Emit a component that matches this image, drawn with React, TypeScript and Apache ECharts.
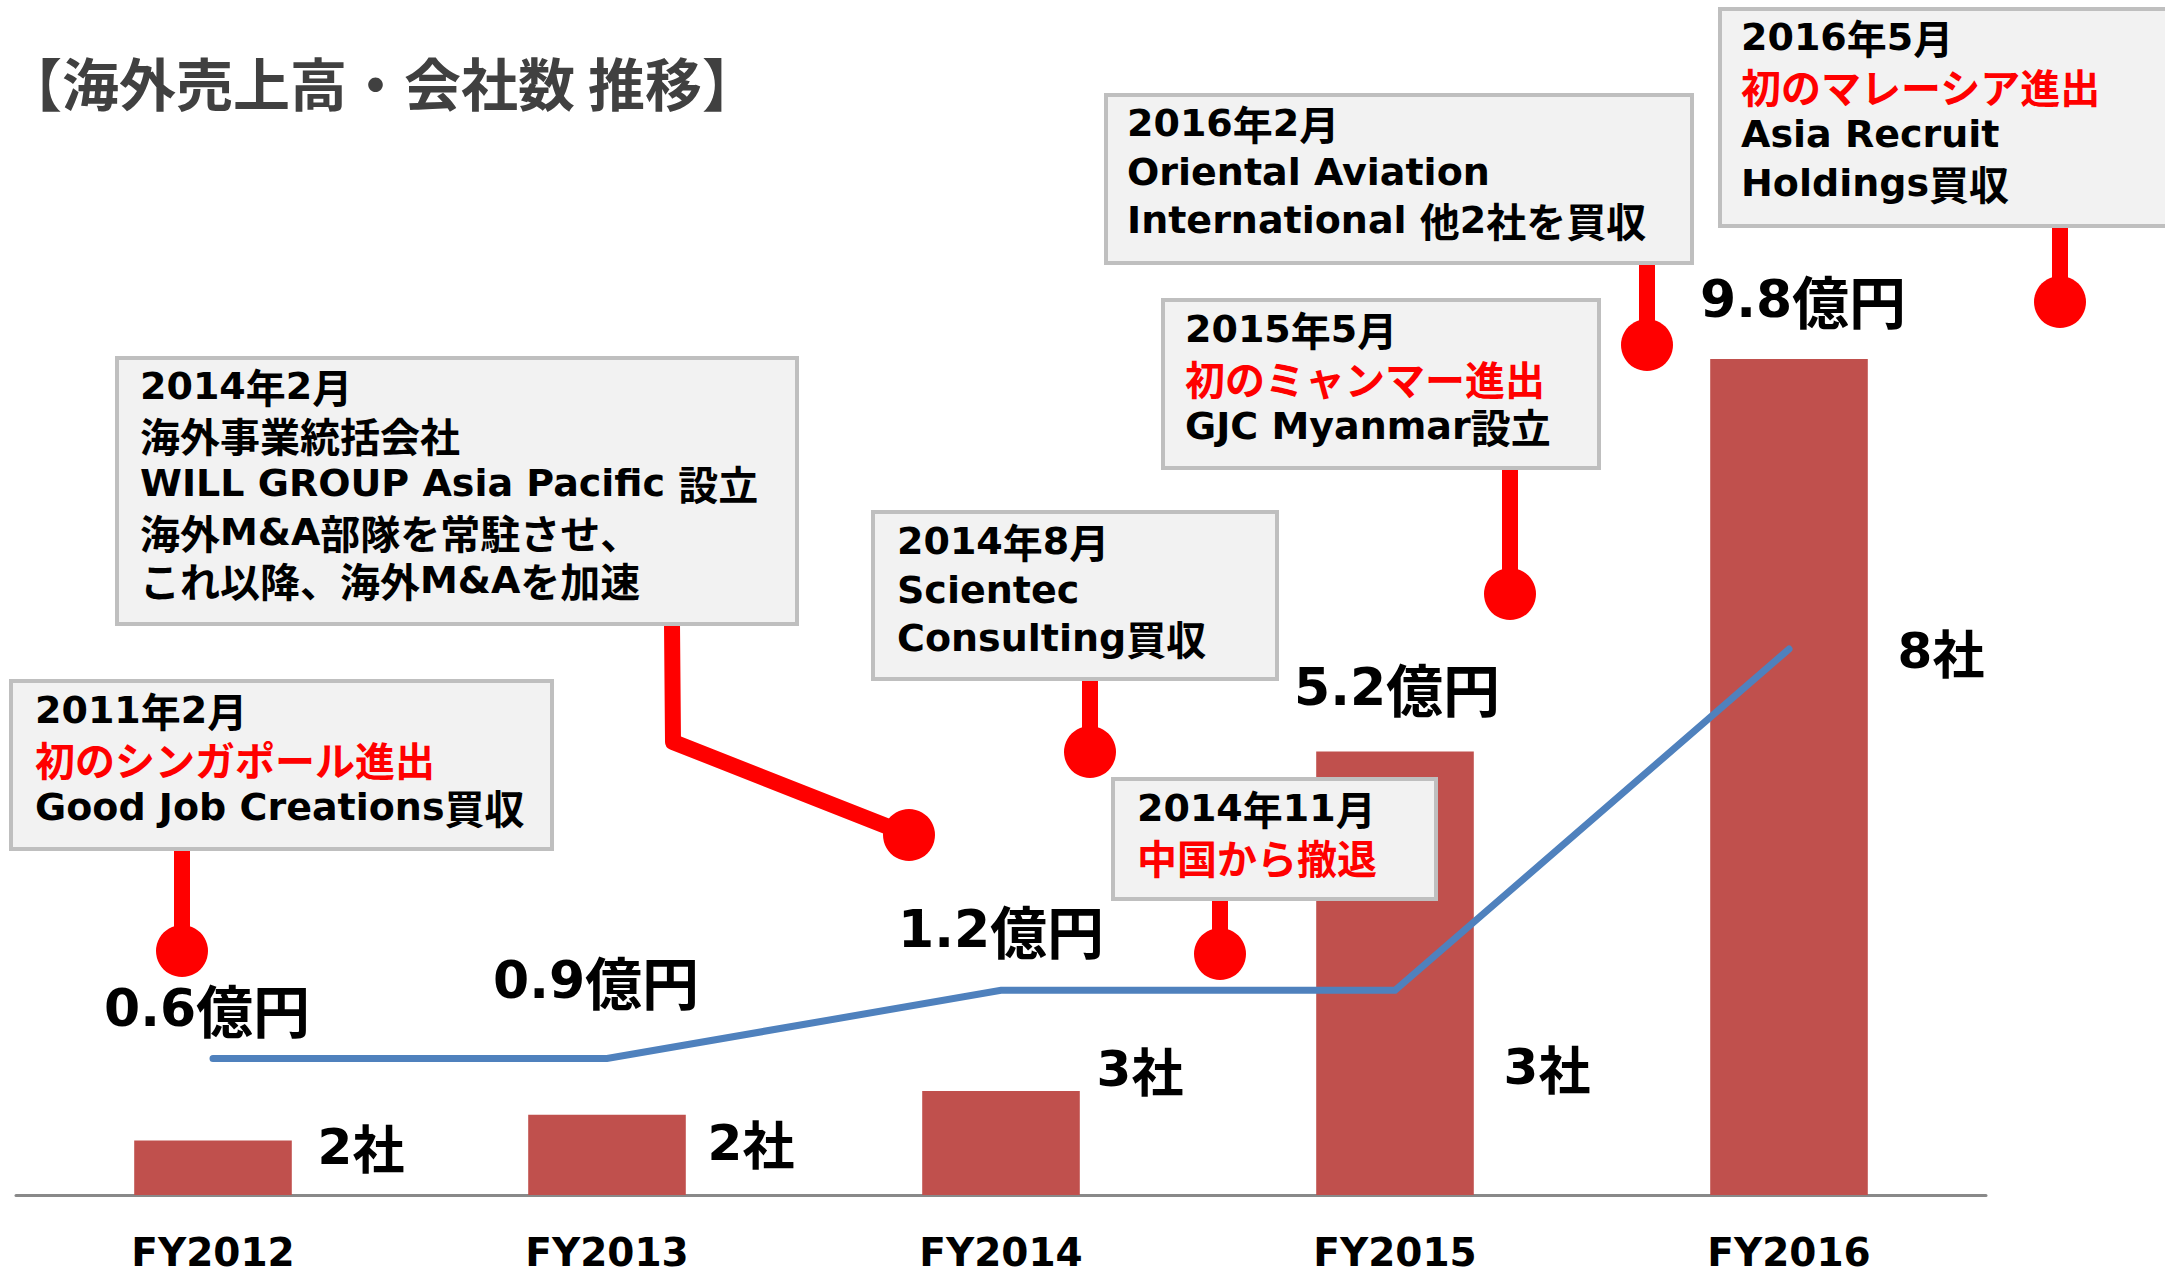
import React, { useEffect, useRef } from "react";
import * as echarts from "echarts";

// ---- data ----
const categories = ["FY2012", "FY2013", "FY2014", "FY2015", "FY2016"];
const revenue = [0.64, 0.94, 1.22, 5.2, 9.8]; // 億円 (bars)
const companies = [2, 2, 3, 3, 8]; // 社 (line)
const titleText = "【海外売上高・会社数 推移】";

const eventLines = [
  ["2011年2月", "初のシンガポール進出", "Good Job Creations買収"],
  ["2014年2月", "海外事業統括会社", "WILL GROUP Asia Pacific 設立", "海外M&A部隊を常駐させ、", "これ以降、海外M&Aを加速"],
  ["2014年8月", "Scientec", "Consulting買収"],
  ["2014年11月", "中国から撤退"],
  ["2015年5月", "初のミャンマー進出", "GJC Myanmar設立"],
  ["2016年2月", "Oriental Aviation", "International 他2社を買収"],
  ["2016年5月", "初のマレーシア進出", "Asia Recruit", "Holdings買収"],
];
const eventHighlight = [1, -1, -1, 1, 1, -1, 1];

// ---- layout (positions only) ----
const revenueLabelShift = [[-6, -104], [-11, -107], [0, -134], [2, -36], [14, -32]];
const countLabelShift = [[148, 88], [144, 84], [139, 79], [152, 77], [152, 2]];
const boxLayout = [
  { x: 11, y: 681, w: 541, h: 168, tx: 35, ty: 710, stem: [[182, 849], [182, 951]] },
  { x: 117, y: 358, w: 680, h: 266, tx: 140, ty: 386, stem: [[672, 624], [673, 742], [909, 835]] },
  { x: 873, y: 512, w: 404, h: 167, tx: 897, ty: 541, stem: [[1090, 679], [1090, 752]] },
  { x: 1113, y: 779, w: 323, h: 120, tx: 1137, ty: 808, stem: [[1220, 899], [1220, 954]] },
  { x: 1163, y: 300, w: 436, h: 168, tx: 1185, ty: 329, stem: [[1510, 468], [1510, 594]] },
  { x: 1106, y: 95, w: 586, h: 168, tx: 1127, ty: 123, stem: [[1647, 263], [1647, 345]] },
  { x: 1720, y: 9, w: 470, h: 217, tx: 1741, ty: 37, stem: [[2060, 226], [2060, 302]] },
];
const LINE_STEP = 48.5;

const LATIN = "'DejaVu Sans', 'Noto Sans CJK JP', sans-serif";
const CJK = "'Noto Sans CJK JP', 'DejaVu Sans', sans-serif";

function toRich(s: string, suffix: string) {
  return s.replace(/[\x20-\x7E]+|[^\x20-\x7E]+/g, (m) =>
    /^[\x20-\x7E]/.test(m) ? `{l${suffix}|${m}}` : `{c${suffix}|${m}}`
  );
}

const boxRich = {
  l: { fontFamily: LATIN, fontSize: 38, fontWeight: "bold", fill: "#000", lineHeight: 46 },
  c: { fontFamily: CJK, fontSize: 40, fontWeight: "bold", fill: "#000", lineHeight: 46 },
  lr: { fontFamily: LATIN, fontSize: 38, fontWeight: "bold", fill: "#FF0000", lineHeight: 46 },
  cr: { fontFamily: CJK, fontSize: 40, fontWeight: "bold", fill: "#FF0000", lineHeight: 46 },
};

export default function App() {
  const ref = useRef<HTMLDivElement>(null);

  useEffect(() => {
    if (!ref.current) return;
    const chart = echarts.init(ref.current, null, { renderer: "svg" });

    const graphics: any[] = [];
    boxLayout.forEach((b, i) => {
      graphics.push({
        type: "polyline",
        shape: { points: b.stem },
        style: { stroke: "#FF0000", lineWidth: 16, fill: null, lineJoin: "round" },
        z: 50,
      });
      const last = b.stem[b.stem.length - 1];
      graphics.push({
        type: "circle",
        shape: { cx: last[0], cy: last[1], r: 26 },
        style: { fill: "#FF0000" },
        z: 50,
      });
      graphics.push({
        type: "rect",
        shape: { x: b.x, y: b.y, width: b.w, height: b.h },
        style: { fill: "#F2F2F2", stroke: "#BFBFBF", lineWidth: 4 },
        z: 60,
      });
      eventLines[i].forEach((line, j) => {
        const suffix = eventHighlight[i] === j ? "r" : "";
        graphics.push({
          type: "text",
          x: b.tx,
          y: b.ty + j * LINE_STEP,
          style: {
            text: toRich(line, suffix),
            rich: boxRich,
            align: "left",
            verticalAlign: "middle",
          },
          z: 61,
        });
      });
    });

    chart.setOption({
      animation: false,
      backgroundColor: "#ffffff",
      title: {
        text: titleText,
        left: 0,
        top: 47,
        textStyle: {
          fontFamily: CJK,
          fontSize: 57,
          fontWeight: "bold",
          color: "#404040",
          lineHeight: 57,
        },
      },
      grid: { left: 16, right: 179, top: 342, bottom: 78, containLabel: false },
      xAxis: {
        type: "category",
        data: categories,
        axisLine: { lineStyle: { color: "#898989", width: 3 } },
        axisTick: { show: false },
        axisLabel: {
          margin: 42,
          fontFamily: LATIN,
          fontSize: 39,
          fontWeight: "bold",
          color: "#000",
          lineHeight: 30,
        },
      },
      yAxis: [
        { type: "value", min: 0, max: 10, show: false, splitLine: { show: false } },
        { type: "value", min: 0, max: 12.5, show: false, splitLine: { show: false } },
      ],
      series: [
        {
          type: "bar",
          barWidth: "40%",
          itemStyle: { color: "#C0504D" },
          data: revenue.map((v, i) => ({
            value: v,
            label: { offset: revenueLabelShift[i] },
          })),
          label: {
            show: true,
            position: "top",
            distance: 0,
            formatter: (p: any) => `{l|${Number(p.value).toFixed(1)}}{c|億円}`,
            rich: {
              l: { fontFamily: LATIN, fontSize: 52, fontWeight: "bold", color: "#000", lineHeight: 56 },
              c: { fontFamily: CJK, fontSize: 57, fontWeight: "bold", color: "#000", lineHeight: 56 },
            },
          },
          z: 2,
        },
        {
          type: "line",
          yAxisIndex: 1,
          symbol: "circle",
          symbolSize: 1,
          showSymbol: true,
          itemStyle: { color: "#4F81BD" },
          lineStyle: { color: "#4F81BD", width: 7, cap: "round", join: "miter" },
          data: companies.map((v, i) => ({
            value: v,
            label: { offset: countLabelShift[i] },
          })),
          label: {
            show: true,
            position: "inside",
            formatter: (p: any) => `{l|${p.value}}{c|社}`,
            rich: {
              l: { fontFamily: LATIN, fontSize: 50, fontWeight: "bold", color: "#000", lineHeight: 52 },
              c: { fontFamily: CJK, fontSize: 52, fontWeight: "bold", color: "#000", lineHeight: 52 },
            },
          },
          z: 3,
        },
      ],
      graphic: { elements: graphics },
    });

    return () => chart.dispose();
  }, []);

  return (
    <div
      ref={ref}
      style={{ position: "fixed", left: 0, top: 0, width: 2165, height: 1273, background: "#fff" }}
    />
  );
}
